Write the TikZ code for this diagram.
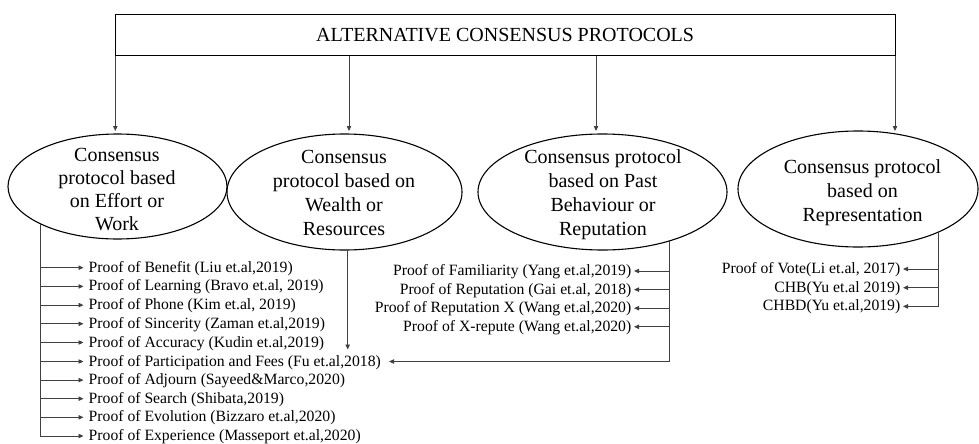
\documentclass[tikz,border=0pt]{standalone}
\usepackage{fontspec}
\setmainfont{Liberation Serif}
\usetikzlibrary{arrows.meta,shapes.geometric}
\begin{document}
\begin{tikzpicture}[x=1pt,y=1pt,
  link/.style={draw=black!75, line width=0.9pt},
  arr/.style={link, -{Triangle[length=5pt,width=4.4pt]}},
  oval/.style={ellipse, draw=black, line width=1.1pt, inner sep=0pt, outer sep=0pt},
  ovaltext/.style={align=center, anchor=base, inner sep=0pt,
    font=\fontsize{20}{24}\selectfont},
  item/.style={font=\fontsize{15.7}{18}\selectfont, text height=12.5pt,
    text depth=3.5pt, inner ysep=0pt},
  litem/.style={item, anchor=west, inner xsep=5pt},
  ritem/.style={item, anchor=east, inner xsep=2.5pt},
  ]
\useasboundingbox (0,0) rectangle (979,-444);

% heading box
\node[draw, line width=0.9pt, minimum width=779.7pt, minimum height=41.4pt,
  inner sep=0pt, font=\fontsize{20}{22}\selectfont]
  (title) at (505.15,-35) {ALTERNATIVE CONSENSUS PROTOCOLS};

% the four protocol families
\node[oval, minimum width=219pt, minimum height=105pt] (e1) at (117.5,-186.5) {};
\node[oval, minimum width=235pt, minimum height=116pt] (e2) at (344.5,-192) {};
\node[oval, minimum width=249pt, minimum height=116pt] (e3) at (602.5,-192) {};
\node[oval, minimum width=240pt, minimum height=116pt] (e4) at (858,-189) {};

% multi-line labels sit on the baseline of their last line
\node[ovaltext, font=\fontsize{20}{23}\selectfont] (e1t) at (117,-230)
  {Consensus\\protocol based\\on Effort or\\Work};
\node[ovaltext] (e2t) at (344,-235)
  {Consensus\\protocol based on\\Wealth or\\Resources};
\node[ovaltext] (e3t) at (603,-235)
  {Consensus protocol\\based on Past\\Behaviour or\\Reputation};
\node[ovaltext] (e4t) at (862.5,-221)
  {Consensus protocol\\based on\\Representation};

% arrows from the heading
\coordinate (t1) at (115.3,-131);
\coordinate (t2) at (349,-131);
\coordinate (t3) at (596,-131);
\coordinate (t4) at (895,-131);
\foreach \t in {t1,t2,t3,t4}
  \draw[arr] (title.south -| \t) -- (\t);

% effort or work
\node[litem] (L1)  at (83.5,-267.7) {Proof of Benefit (Liu et.al,2019)};
\node[litem] (L2)  at (83.5,-286.4) {Proof of Learning (Bravo et.al, 2019)};
\node[litem] (L3)  at (83.5,-305.1) {Proof of Phone (Kim et.al, 2019)};
\node[litem] (L4)  at (83.5,-323.8) {Proof of Sincerity (Zaman et.al,2019)};
\node[litem] (L5)  at (83.5,-342.5) {Proof of Accuracy (Kudin et.al,2019)};
\node[litem] (L6)  at (83.5,-361.5) {Proof of Participation and Fees (Fu et.al,2018)};
\node[litem] (L7)  at (83.5,-380.1) {Proof of Adjourn (Sayeed\&Marco,2020)};
\node[litem] (L8)  at (83.5,-398.7) {Proof of Search (Shibata,2019)};
\node[litem] (L9)  at (83.5,-417.3) {Proof of Evolution (Bizzaro et.al,2020)};
\node[litem] (L10) at (83.5,-436) {Proof of Experience (Masseport et.al,2020)};

\coordinate (s1) at (40.7,-436);
\draw[arr] (s1 |- e1.206) -- (s1) -- (L10.west);
\foreach \n in {L1,L2,L3,L4,L5,L6,L7,L8,L9}
  \draw[arr] (s1 |- \n.west) -- (\n.west);

% wealth or resources
\coordinate (w2) at (347.7,-349.5);
\draw[arr] (w2 |- e2.south) -- (w2);

% past behaviour or reputation
\node[ritem] (R1) at (634,-271)   {Proof of Familiarity (Yang et.al,2019)};
\node[ritem] (R2) at (634,-289.6) {Proof of Reputation (Gai et.al, 2018)};
\node[ritem] (R3) at (634,-308.2) {Proof of Reputation X (Wang et.al,2020)};
\node[ritem] (R4) at (634,-326.8) {Proof of X-repute (Wang et.al,2020)};

\coordinate (s3) at (669.5,-361.5);
\draw[arr] (s3 |- e3.324) -- (s3) -- ([xshift=3pt]L6.east |- s3);
\foreach \n in {R1,R2,R3,R4}
  \draw[arr] (s3 |- \n.east) -- (\n.east);

% representation
\node[ritem] (V1) at (903,-269)   {Proof of Vote(Li et.al, 2017)};
\node[ritem] (V2) at (903,-287.7) {CHB(Yu et.al 2019)};
\node[ritem] (V3) at (903,-306.4) {CHBD(Yu et.al,2019)};

\coordinate (s4) at (938.3,-306.4);
\draw[arr] (s4 |- e4.332) -- (s4) -- (V3.east);
\foreach \n in {V1,V2}
  \draw[arr] (s4 |- \n.east) -- (\n.east);
\end{tikzpicture}
\end{document}
